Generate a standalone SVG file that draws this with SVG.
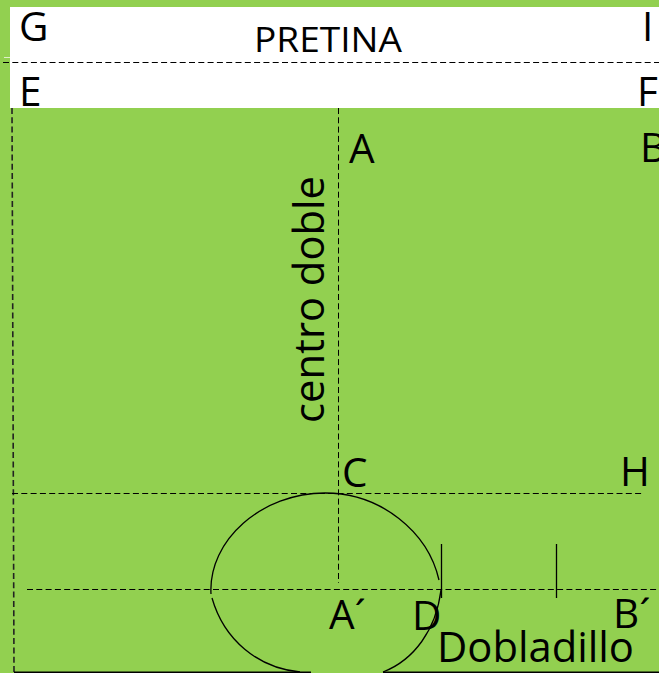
<svg xmlns="http://www.w3.org/2000/svg" width="659" height="673" viewBox="0 0 659 673">
<style>
text{font-family:"Open Sans","Noto Sans",sans-serif;fill:#000}
.l{font-size:40.5px}
.d{fill:none;stroke:#000;stroke-width:1;stroke-dasharray:6 3.3}
.s{fill:none;stroke:#000;stroke-width:1.3}
</style>
<rect width="659" height="673" fill="#92d050"/>
<rect x="10" y="7" width="649" height="101" fill="#fff"/>
<rect x="4" y="57" width="6" height="1" fill="#dff0c8"/>
<g id="connectors">
<path class="d" d="M3 62.5H659"/>
<path class="d" style="stroke-width:1.6;stroke:#222" d="M12 108L14 672"/>
<path class="d" d="M338.5 108V583"/>
<path class="d" d="M12 493.5H642"/>
<path class="d" d="M27 589.5H659"/>
<path class="s" d="M211 594C208 540 262 493 325 493C381 493 428 532 439 580"/>
<path class="s" d="M212 598C224 640 258 668 300 672M383 672C414 660 436 630 441 590"/>
<path class="s" d="M441.5 544V598M556.5 544V598"/>
<path d="M14 672.2H311M383 672.2H659" fill="none" stroke="#000" stroke-width="1.5"/>
</g>
<g id="node-g"><text class="l" x="19" y="41">G</text></g>
<g id="node-pretina"><text x="254" y="52" font-size="34" textLength="148" lengthAdjust="spacingAndGlyphs">PRETINA</text></g>
<g id="node-i"><text class="l" x="642" y="41">I</text></g>
<g id="node-e"><text class="l" x="19" y="106">E</text></g>
<g id="node-f"><text class="l" x="637" y="106">F</text></g>
<g id="node-a"><text class="l" x="349" y="163">A</text></g>
<g id="node-b"><text class="l" x="640" y="162">B</text></g>
<g id="node-centro"><text font-size="42" transform="translate(324 423) rotate(-90)" textLength="247" lengthAdjust="spacingAndGlyphs">centro doble</text></g>
<g id="node-c"><text class="l" x="342" y="487">C</text></g>
<g id="node-h"><text class="l" x="620" y="486">H</text></g>
<g id="node-a2"><text class="l" x="329" y="629">A´</text></g>
<g id="node-d"><text class="l" x="412" y="630">D</text></g>
<g id="node-b2"><text class="l" x="613" y="628">B´</text></g>
<g id="node-dobladillo"><text font-size="42" x="437" y="662" textLength="197" lengthAdjust="spacingAndGlyphs">Dobladillo</text></g>
</svg>
